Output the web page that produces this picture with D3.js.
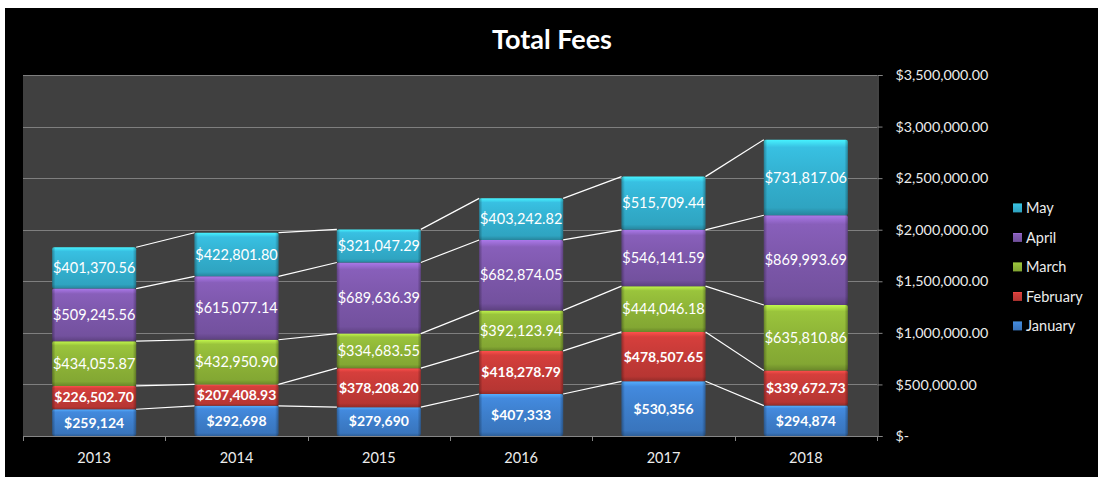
<!DOCTYPE html>
<html>
<head>
<meta charset="utf-8">
<script src="https://cdn.jsdelivr.net/npm/d3@7"></script>
<style>
  html, body { margin: 0; padding: 0; background: #fff; }
  svg { display: block; font-family: Lato, "Open Sans", sans-serif; }
</style>
</head>
<body>
<svg id="chart" width="1098" height="477"></svg>
<script>
var years = ['2013', '2014', '2015', '2016', '2017', '2018'];
var seriesNames = ['January', 'February', 'March', 'April', 'May'];
var january = [259124, 292698, 279690, 407333, 530356, 294874];
var february = [226502.70, 207408.93, 378208.20, 418278.79, 478507.65, 339672.73];
var march = [434055.87, 432950.90, 334683.55, 392123.94, 444046.18, 635810.86];
var april = [509245.56, 615077.14, 689636.39, 682874.05, 546141.59, 869993.69];
var may = [401370.56, 422801.80, 321047.29, 403242.82, 515709.44, 731817.06];
var yTicks = [0, 500000, 1000000, 1500000, 2000000, 2500000, 3000000, 3500000];

var seriesValues = [january, february, march, april, may];
var colors = ['#3d7ecb', '#c43a37', '#8db337', '#7c57aa', '#33b0cf'];

var svg = d3.select('#chart');

// black chart area
svg.append('rect')
  .attr('x', 5).attr('y', 8)
  .attr('width', 1093).attr('height', 469)
  .attr('fill', '#000');

var plot = { left: 23, right: 877, top: 75, bottom: 436 };

svg.append('rect')
  .attr('x', plot.left).attr('y', plot.top)
  .attr('width', plot.right - plot.left).attr('height', plot.bottom - plot.top)
  .attr('fill', '#404040');

var x = d3.scaleBand()
  .domain(years)
  .range([plot.left, plot.right])
  .paddingInner(0.41)
  .paddingOuter(0.205);

var y = d3.scaleLinear()
  .domain([0, 3500000])
  .range([plot.bottom, plot.top]);

// gradients
var defs = svg.append('defs');
colors.forEach(function (c, i) {
  var base = d3.color(c);
  var g = defs.append('linearGradient')
    .attr('id', 'grad' + i)
    .attr('x1', 0).attr('y1', 0).attr('x2', 0).attr('y2', 1);
  g.append('stop').attr('offset', '0%').attr('stop-color', base.brighter(0.9));
  g.append('stop').attr('offset', '10%').attr('stop-color', base.brighter(0.25));
  g.append('stop').attr('offset', '50%').attr('stop-color', base);
  g.append('stop').attr('offset', '90%').attr('stop-color', base.darker(0.2));
  g.append('stop').attr('offset', '100%').attr('stop-color', base.darker(0.8));
});
var side = defs.append('linearGradient')
  .attr('id', 'side')
  .attr('x1', 0).attr('y1', 0).attr('x2', 1).attr('y2', 0);
side.append('stop').attr('offset', '0%').attr('stop-color', '#000').attr('stop-opacity', 0.3);
side.append('stop').attr('offset', '4%').attr('stop-color', '#000').attr('stop-opacity', 0);
side.append('stop').attr('offset', '96%').attr('stop-color', '#000').attr('stop-opacity', 0);
side.append('stop').attr('offset', '100%').attr('stop-color', '#000').attr('stop-opacity', 0.3);

// gridlines
svg.append('g')
  .selectAll('line')
  .data(yTicks.slice(1))
  .join('line')
  .attr('x1', plot.left).attr('x2', plot.right)
  .attr('y1', function (d) { return Math.round(y(d)) + 0.5; })
  .attr('y2', function (d) { return Math.round(y(d)) + 0.5; })
  .attr('stroke', '#7f7f7f')
  .attr('stroke-width', 1);

// stacked data
var table = years.map(function (yr, i) {
  var row = { year: yr };
  seriesNames.forEach(function (s, k) { row[s] = seriesValues[k][i]; });
  return row;
});
var stacked = d3.stack().keys(seriesNames)(table);

// series lines
var lineG = svg.append('g');
stacked.forEach(function (layer) {
  for (var i = 0; i < years.length - 1; i++) {
    lineG.append('line')
      .attr('x1', x(years[i]) + x.bandwidth())
      .attr('y1', y(layer[i][1]))
      .attr('x2', x(years[i + 1]))
      .attr('y2', y(layer[i + 1][1]))
      .attr('stroke', '#fff')
      .attr('stroke-width', 1.2);
  }
});

// bars
var barG = svg.append('g');
stacked.forEach(function (layer, k) {
  var g = barG.append('g');
  layer.forEach(function (d, i) {
    var bx = x(years[i]);
    var by = y(d[1]);
    var bh = y(d[0]) - y(d[1]);
    g.append('rect')
      .attr('x', bx).attr('y', by)
      .attr('width', x.bandwidth()).attr('height', bh)
      .attr('rx', 2)
      .attr('fill', 'url(#grad' + k + ')');
    g.append('rect')
      .attr('x', bx).attr('y', by)
      .attr('width', x.bandwidth()).attr('height', bh)
      .attr('rx', 2)
      .attr('fill', 'url(#side)');
  });
});

// data labels
var fmt2 = d3.format('$,.2f');
var fmt0 = d3.format('$,.0f');
var labelG = svg.append('g');
stacked.forEach(function (layer, k) {
  layer.forEach(function (d, i) {
    var v = d[1] - d[0];
    labelG.append('text')
      .attr('x', x(years[i]) + x.bandwidth() / 2)
      .attr('y', (y(d[0]) + y(d[1])) / 2)
      .attr('dy', '0.35em')
      .attr('text-anchor', 'middle')
      .attr('fill', '#fff')
      .attr('font-size', k < 2 ? 14 : 14.5)
      .attr('font-weight', k < 2 ? 'bold' : 'normal')
      .text(k === 0 ? fmt0(v) : fmt2(v));
  });
});

// x axis
var xAxis = svg.append('g');
xAxis.append('line')
  .attr('x1', plot.left).attr('x2', plot.right)
  .attr('y1', plot.bottom + 0.5).attr('y2', plot.bottom + 0.5)
  .attr('stroke', '#868686');
var bounds = years.map(function (yr) { return x(yr) - x.step() * x.paddingInner() / 2; });
bounds.push(plot.right);
xAxis.selectAll('line.tick')
  .data(bounds)
  .join('line')
  .attr('class', 'tick')
  .attr('x1', function (d) { return Math.round(d) + 0.5; })
  .attr('x2', function (d) { return Math.round(d) + 0.5; })
  .attr('y1', plot.bottom).attr('y2', plot.bottom + 5)
  .attr('stroke', '#868686');
xAxis.selectAll('text')
  .data(years)
  .join('text')
  .attr('x', function (d) { return x(d) + x.bandwidth() / 2; })
  .attr('y', 458)
  .attr('dy', '0.35em')
  .attr('text-anchor', 'middle')
  .attr('fill', '#ececec')
  .attr('font-size', 14.5)
  .text(function (d) { return d; });

// right y axis
var yAxis = svg.append('g')
  .attr('transform', 'translate(' + (plot.right + 0.5) + ',0)')
  .call(d3.axisRight(y)
    .tickValues(yTicks)
    .tickSize(5)
    .tickPadding(13)
    .tickFormat(function (d) { return d === 0 ? '$-' : fmt2(d); }));
yAxis.select('.domain').attr('stroke', '#868686');
yAxis.selectAll('.tick line').attr('stroke', '#868686');
yAxis.selectAll('.tick text')
  .attr('fill', '#ececec')
  .attr('font-size', 14.3)
  .attr('font-family', 'Lato, "Open Sans", sans-serif');

// legend
var legend = svg.append('g');
var legendItems = seriesNames.slice().reverse();
legendItems.forEach(function (name, i) {
  var k = seriesNames.indexOf(name);
  var ly = 208 + i * 29.5;
  legend.append('rect')
    .attr('x', 1013).attr('y', ly - 4.5)
    .attr('width', 9).attr('height', 9)
    .attr('fill', 'url(#grad' + k + ')');
  legend.append('text')
    .attr('x', 1026).attr('y', ly)
    .attr('dy', '0.35em')
    .attr('fill', '#ececec')
    .attr('font-size', 14.5)
    .text(name);
});

// title
svg.append('text')
  .attr('x', 552).attr('y', 40)
  .attr('dy', '0.35em')
  .attr('text-anchor', 'middle')
  .attr('fill', '#fff')
  .attr('font-size', 27)
  .attr('font-weight', 'bold')
  .text('Total Fees');
</script>
</body>
</html>
